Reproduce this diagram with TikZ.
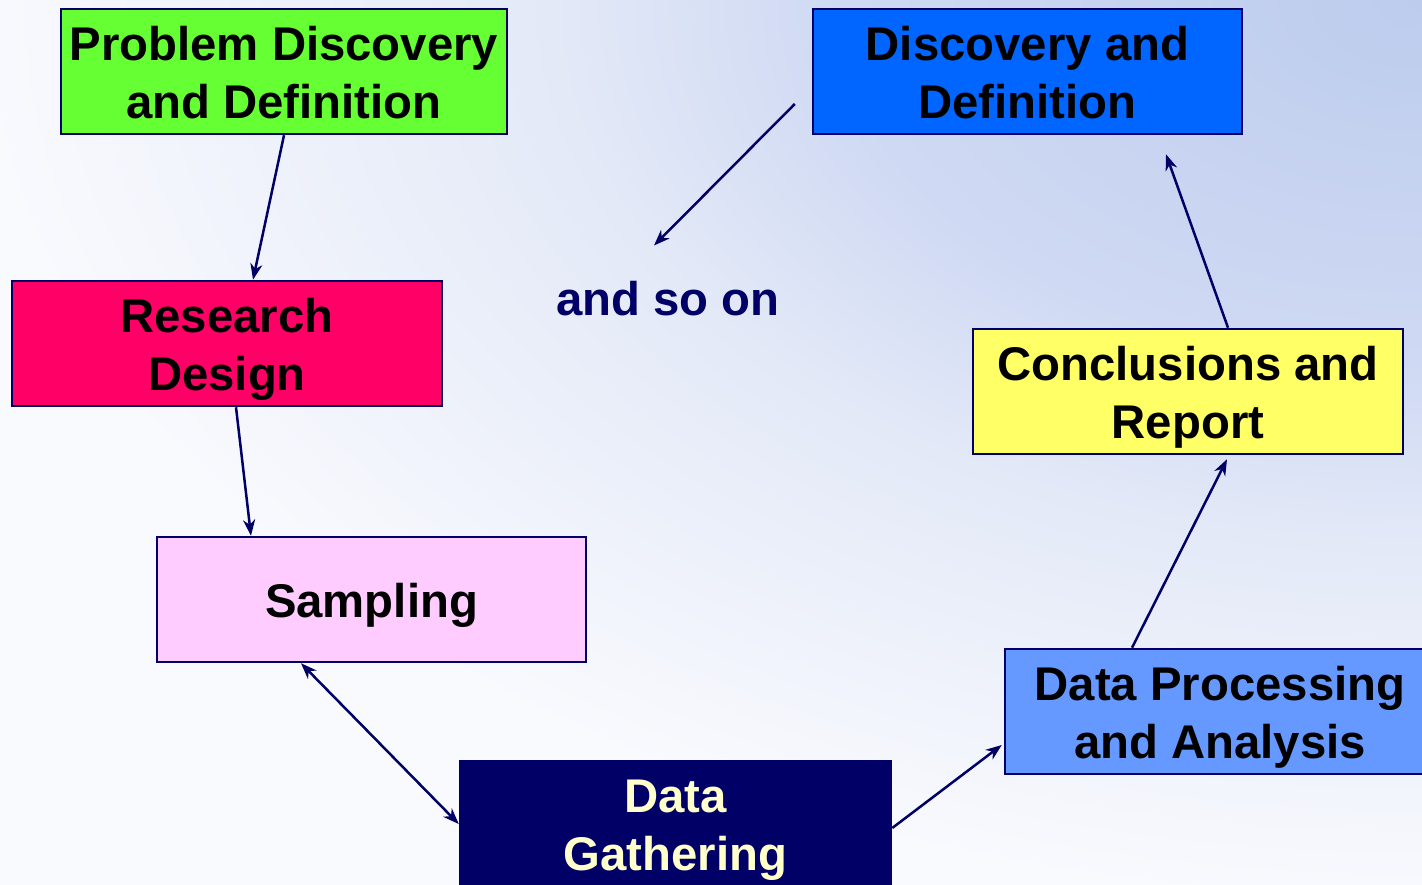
\documentclass[tikz,border=0pt]{standalone}
\usepackage{fontspec}
\setmainfont{Liberation Sans}
\usetikzlibrary{arrows.meta}

\definecolor{navy}{HTML}{000066}
\definecolor{bgA}{HTML}{BDCCED}
\definecolor{bgB}{HTML}{CFD9F3}
\definecolor{bgC}{HTML}{E3E9F7}
\definecolor{bgD}{HTML}{F9FAFE}
\definecolor{greenbox}{HTML}{66FF33}
\definecolor{bluebox}{HTML}{0066FF}
\definecolor{redbox}{HTML}{FF0066}
\definecolor{yellowbox}{HTML}{FFFF66}
\definecolor{pinkbox}{HTML}{FFCCFF}
\definecolor{lightbluebox}{HTML}{6699FF}
\definecolor{paleyellow}{HTML}{FFFFCC}

% elliptical glow; 25bp corresponds to the half size of the shaded rectangle
\pgfdeclareradialshading{bgglow}{\pgfpoint{0bp}{0bp}}{%
  color(0bp)=(bgA); color(10bp)=(bgB); color(15bp)=(bgC);
  color(25bp)=(bgD); color(50bp)=(bgD)}

% fixed height of the first line and depth of the last one,
% so every label sits at the same place in its box
\newcommand{\headstrut}{\rule{0pt}{46pt}}
\newcommand{\tailstrut}{\rule[-10pt]{0pt}{10pt}}

\tikzset{
  stagebox/.style={draw=navy, line width=2.5pt, inner sep=0pt, align=center,
    minimum height=125pt, font=\fontsize{47.3}{58}\selectfont\bfseries},
  flow/.style={draw=navy, line width=2.5pt,
    -{Stealth[length=16pt, width=12pt, inset=5pt]}},
  bothflow/.style={draw=navy, line width=2.5pt,
    {Stealth[length=16pt, width=12pt, inset=5pt]}-{Stealth[length=16pt, width=12pt, inset=5pt]}},
}

\begin{document}
\begin{tikzpicture}[x=1pt, y=-1pt]
  \useasboundingbox (0,0) rectangle (1422,885);
  \clip (0,0) rectangle (1422,885);

  % background: light blue glow spreading from the upper right corner
  \fill[bgD] (0,0) rectangle (1422,885);
  \shade[shading=bgglow] (1422-1450,-906) rectangle (1422+1450,906);

  % stages of the process
  \node[stagebox, fill=greenbox, minimum width=446pt] (pd) at (284,71.5)
    {\headstrut Problem Discovery\\and Definition\tailstrut};
  \node[stagebox, fill=bluebox, minimum width=429pt] (dd) at (1027.5,71.5)
    {\headstrut Discovery and\\Definition\tailstrut};
  \node[stagebox, fill=redbox, minimum width=430pt] (rd) at (227,343.5)
    {\headstrut Research\\Design\tailstrut};
  \node[stagebox, fill=yellowbox, minimum width=430pt] (cr) at (1188,391.5)
    {\headstrut Conclusions and\\Report\tailstrut};
  \node[stagebox, fill=pinkbox, minimum width=429pt] (sp) at (371.5,599.5)
    {\headstrut Sampling\tailstrut};
  \node[stagebox, fill=lightbluebox, minimum width=430pt] (dp) at (1220,711.5)
    {\headstrut Data Processing\\and Analysis\tailstrut};
  \node[stagebox, fill=navy, text=paleyellow, minimum width=431pt] (dg) at (675.5,824)
    {\headstrut Data\\Gathering\tailstrut};

  \node[inner sep=0pt, anchor=base, text=navy,
        font=\fontsize{47.3}{58}\selectfont\bfseries] (so) at (668,316) {and so on};

  % connectors
  \draw[flow] (pd.south) -- ([xshift=26pt]rd.north);
  \draw[flow] ([xshift=9pt]rd.south) -- ([xshift=-120.5pt]sp.north);
  \draw[bothflow] ([xshift=-70.5pt]sp.south) -- (dg.west);
  \draw[flow] ([yshift=-4pt]dg.east) -- ([xshift=-2pt, yshift=-33.5pt]dp.west);
  \draw[flow] ([xshift=-88pt]dp.north) -- ([xshift=39pt, yshift=-4pt]cr.south);
  \draw[flow] ([xshift=40pt]cr.north) -- ([xshift=138.5pt, yshift=-19pt]dd.south);
  \draw[flow] ([xshift=-17pt, yshift=-32.5pt]dd.west) -- ([xshift=-14pt, yshift=36pt]so.north);
\end{tikzpicture}
\end{document}
